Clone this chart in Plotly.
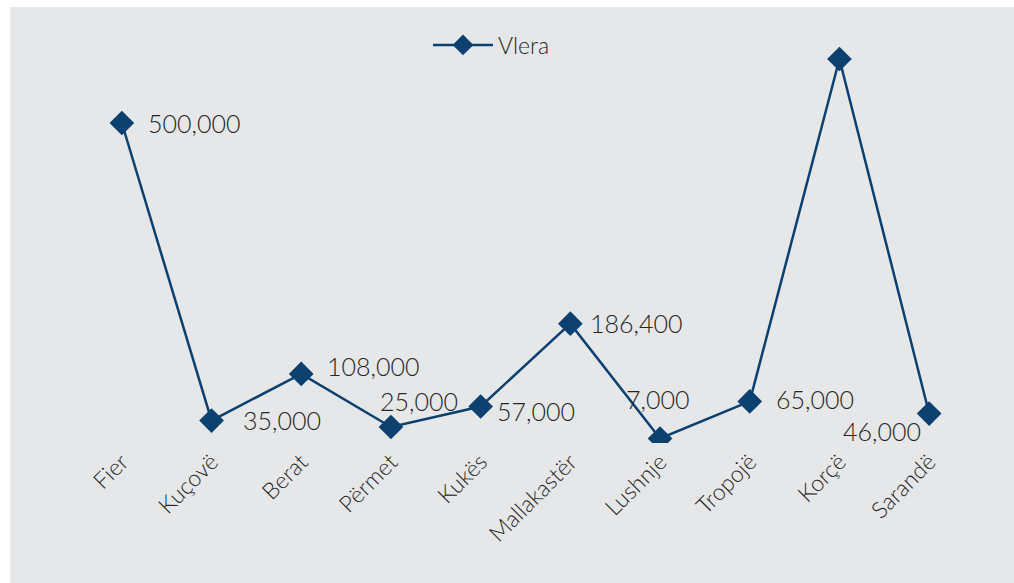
import plotly.graph_objects as go

# Regional values
categories = ["Fier", "Kuçovë", "Berat", "Përmet", "Kukës",
              "Mallakastër", "Lushnje", "Tropojë", "Korçë", "Sarandë"]
values = [500000, 35000, 108000, 25000, 57000, 186400, 7000, 65000, 600000, 46000]
# which points carry a value label
show_label = [True, True, True, True, True, True, True, True, False, True]

# label placement per point: (xanchor, xshift, yshift)
label_place = [
    ("left", 24, 0),
    ("left", 29, 1),
    ("left", 24, 8),
    ("left", -13, 26),
    ("left", 14, -4),
    ("left", 18, 1),
    ("left", -36, 40),
    ("left", 24, 2),
    ("left", 0, 0),
    ("right", -6, -17),
]

W, H = 1014, 583
ML, MR, MT, MB = 77, 40, 27, 140
pw = W - ML - MR
ph = H - MT - MB

LINE = "#0b406f"
TXT = "#262626"
BG = "#e6e7e8"
FONT = "Lato, 'Open Sans', sans-serif"
WEIGHT = 300

fig = go.Figure()
fig.add_trace(go.Scatter(
    x=categories, y=values, name="Vlera",
    mode="lines+markers",
    line=dict(color=LINE, width=2.5),
    marker=dict(symbol="diamond", size=19, color=LINE),
))

for cat, v, show, (xa, xs, ys) in zip(categories, values, show_label, label_place):
    if not show:
        continue
    fig.add_annotation(
        x=cat, y=v, text=f"{v:,}", showarrow=False,
        xanchor=xa, yanchor="middle", xshift=xs, yshift=ys,
        font=dict(size=25, color=TXT, family=FONT, weight=WEIGHT),
    )

# grey panel behind the chart
fig.add_shape(
    type="rect", xref="paper", yref="paper", layer="below",
    x0=(10 - ML) / pw, x1=(W + 5 - ML) / pw,
    y0=-(H + 5 - MT - ph) / ph, y1=(MT + ph - 7) / ph,
    fillcolor=BG, line=dict(width=0),
)

fig.update_layout(
    width=W, height=H,
    margin=dict(l=ML, r=MR, t=MT, b=MB),
    paper_bgcolor="white",
    plot_bgcolor="rgba(0,0,0,0)",
    font=dict(family=FONT, color=TXT, weight=WEIGHT),
    showlegend=True,
    legend=dict(
        orientation="h", x=(428 - ML) / pw, xanchor="left",
        y=(ph + MT - 45) / ph, yanchor="middle",
        bgcolor="rgba(0,0,0,0)",
        font=dict(size=23, color=TXT, family=FONT, weight=WEIGHT),
        itemwidth=60,
    ),
    xaxis=dict(
        showgrid=False, zeroline=False, showline=False, ticks="",
        tickangle=-45,
        tickfont=dict(size=23, color=TXT, family=FONT, weight=WEIGHT),
        range=[-0.5, len(categories) - 0.5],
    ),
    yaxis=dict(
        range=[0, 650000], showgrid=False, zeroline=False,
        showline=False, showticklabels=False, ticks="",
    ),
)

fig.write_html("out.html")
